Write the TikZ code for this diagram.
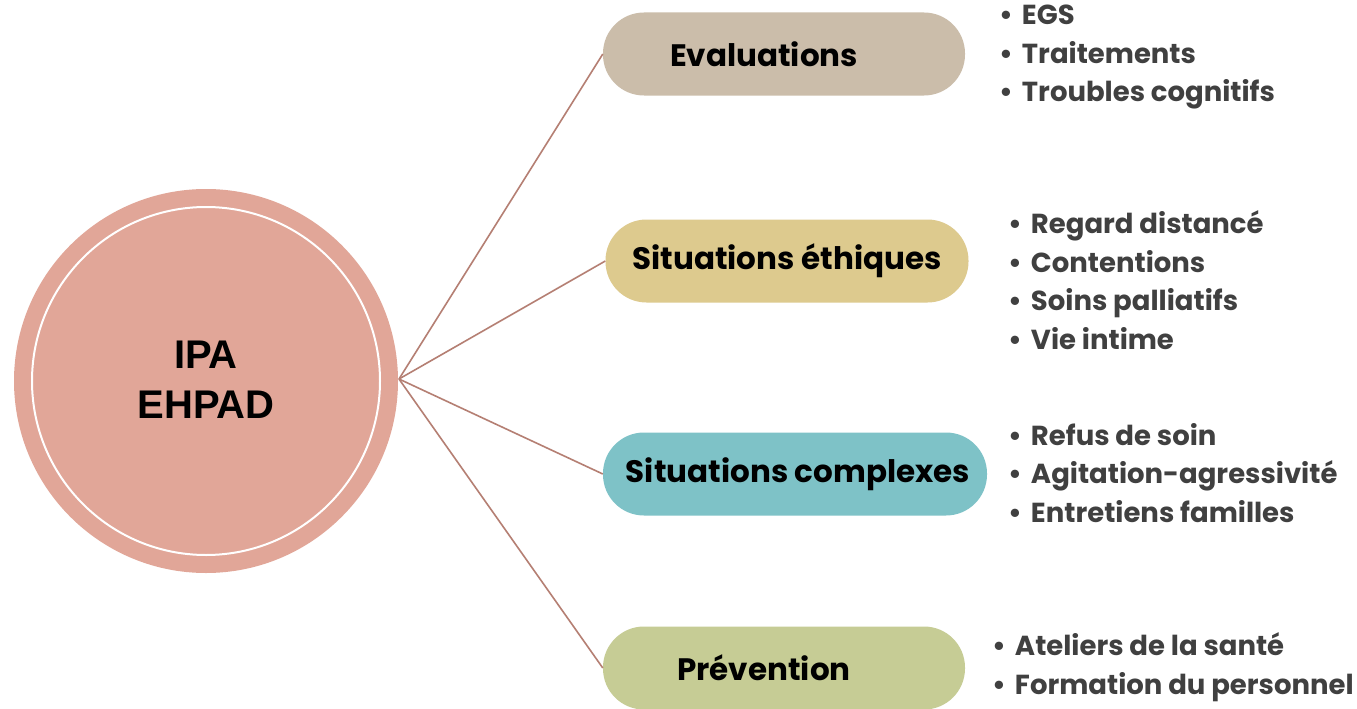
\documentclass[tikz,border=0pt]{standalone}
\usepackage{fontspec}
\setmainfont{Poppins}
\newfontfamily\arialfont{Liberation Sans}
\definecolor{circ}{HTML}{E1A698}
\definecolor{evalc}{HTML}{CBBDAA}
\definecolor{ethc}{HTML}{DDCA8E}
\definecolor{compc}{HTML}{7EC2C7}
\definecolor{prevc}{HTML}{C6CC95}
\definecolor{linec}{HTML}{B57F73}
\definecolor{txtg}{HTML}{404040}
\newcommand{\bul}{\textbullet\hspace{9pt}}
\begin{document}
\begin{tikzpicture}[x=1pt,y=-1pt,
  pill/.style={rounded corners=41pt, minimum height=83pt, inner sep=0pt},
  pilltext/.style={inner sep=0pt, font=\fontsize{31}{34}\selectfont\bfseries, text=black},
  blist/.style={anchor=west, align=left, inner sep=0pt, text=txtg, font=\fontsize{27.5}{38.5}\selectfont\bfseries},
  conn/.style={draw=linec, line width=1.6pt}]
\useasboundingbox (0,0) rectangle (1357,709);
\fill[white] (0,0) rectangle (1357,709);
% central circle
\node[circle, fill=circ, minimum size=384pt, inner sep=0pt] (c) at (206,381) {};
\draw[white, line width=2pt] (c.center) circle (174pt);
\node[font=\arialfont\bfseries\fontsize{40}{50}\selectfont, align=center, text=black] (ct) at (206,380) {IPA\\EHPAD};
% pills
\node[pill, fill=evalc, minimum width=362pt] (e) at (784,54) {};
\node[pill, fill=ethc, minimum width=363pt] (t) at (787,261) {};
\node[pill, fill=compc, minimum width=384pt] (x) at (795,474) {};
\node[pill, fill=prevc, minimum width=362pt] (p) at (784,668) {};
\node[pilltext] (et) at (764,54) {Evaluations};
\node[pilltext] (tt) at (787,261) {Situations éthiques};
\node[pilltext] (xt) at (798,474) {Situations complexes};
\node[pilltext] (pt) at (764,668) {Prévention};
% connectors
\coordinate (hub) at (399,379);
\draw[conn] (hub) -- (e.west);
\draw[conn] (hub) -- (t.west);
\draw[conn] (hub) -- (x.west);
\draw[conn] (hub) -- (p.west);
% bullet lists
\node[blist] (le) at (999,57) {\bul EGS\\\bul Traitements\\\bul Troubles cognitifs};
\node[blist] (lt) at (1008,280) {\bul Regard distancé\\\bul Contentions\\\bul Soins palliatifs\\\bul Vie intime};
\node[blist] (lx) at (1008,473) {\bul Refus de soin\\\bul Agitation-agressivité\\\bul Entretiens familles};
\node[blist] (lp) at (992,667) {\bul Ateliers de la santé\\\bul Formation du personnel};
\end{tikzpicture}
\end{document}
